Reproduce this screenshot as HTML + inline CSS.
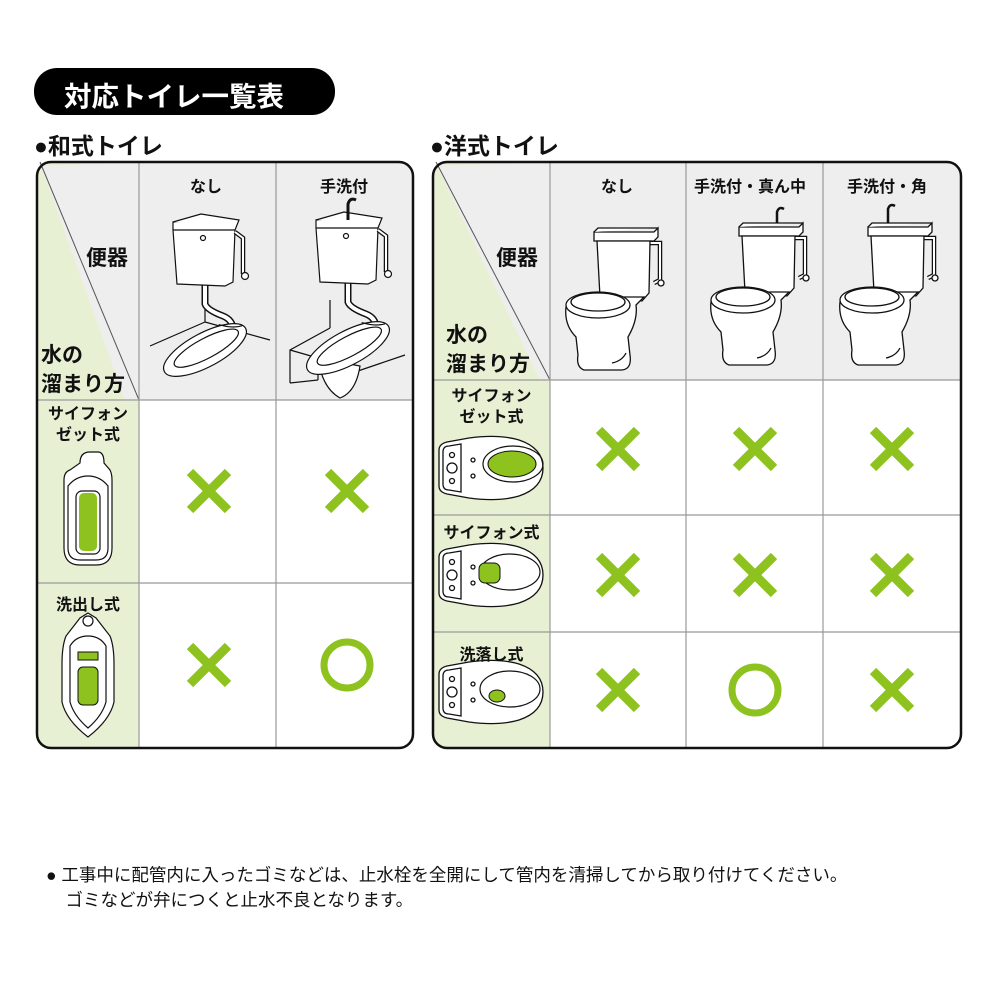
<!DOCTYPE html>
<html><head><meta charset="utf-8"><style>
body{margin:0;width:1000px;height:1000px;background:#fff;position:relative;overflow:hidden;font-family:"Liberation Sans","Noto Sans CJK JP",sans-serif;}
.t{position:absolute;font-weight:bold;color:#111;white-space:nowrap;}
</style></head><body>
<svg width="1000" height="1000" style="position:absolute;left:0;top:0">
<defs>
<g id="xm"><path d="M-19,-19 L19,19 M19,-19 L-19,19" stroke="#8dc21f" stroke-width="9"/></g>
<g id="om"><circle r="23" fill="none" stroke="#8dc21f" stroke-width="7"/></g>
<g id="wt" fill="#fff" stroke="#111" stroke-width="1.3">
 <path d="M55,18 L68,18 L68,55 L62,58" fill="none" stroke-width="4.5"/>
 <path d="M55,18 L68,18 L68,55 L62,58" fill="none" stroke="#fff" stroke-width="2"/>
 <circle cx="69" cy="58" r="3"/>
 <path d="M2,7 L62,7 L66,3 L66,12 L62,16 L2,16 Z"/><path d="M2,7 L6,3 L66,3"/>
 <path d="M5,16 L58,16 L57,68 L50,76 L8,72 Z"/>
 <path d="M-26,82 Q-28,100 -16,112 L-14,130 Q-16,142 -8,145 L30,145 Q40,144 38,130 L36,112 Q46,95 44,80 L52,72 L30,72 Z"/>
 <ellipse cx="6" cy="80" rx="32" ry="13"/>
 <ellipse cx="6" cy="77" rx="27" ry="9"/>
 <path d="M20,138 Q30,136 34,128" fill="none"/>
</g>
<g id="sq" fill="#fff" stroke="#111" stroke-width="1.2">
 <path d="M40,63 L40,82 Q42,88 58,94 Q68,98 68,108" fill="none" stroke-width="7"/>
 <path d="M40,63 L40,82 Q42,88 58,94 Q68,98 68,108" fill="none" stroke="#fff" stroke-width="4"/>
 <g transform="translate(40,128) rotate(-28)">
  <ellipse rx="46" ry="17"/>
  <ellipse cx="2" cy="-1" rx="36" ry="10"/>
  <path d="M24,-16 Q34,-6 44,-4" fill="none"/>
 </g>
 <path d="M8,0 L62,0 L70,8 L68,60 L60,64 L12,62 L8,8 Z"/>
 <path d="M8,0 L36,-8 L74,-2 L70,8"/>
 <path d="M8,8 L70,8" fill="none"/>
 <path d="M70,10 L78,16 L78,52" fill="none" stroke-width="4.5"/>
 <path d="M70,10 L78,16 L78,52" fill="none" stroke="#fff" stroke-width="2"/>
 <circle cx="80" cy="54" r="3.5"/>
 <circle cx="38" cy="16" r="2.5"/>
</g>
<g id="bowl" fill="#fff" stroke="#111" stroke-width="1.3">
 <path d="M0,4 Q0,-2 8,-4 L30,-8 Q60,-12 80,-6 Q104,2 104,22 Q104,42 80,50 Q60,56 30,52 L8,48 Q0,46 0,40 Z"/>
 <path d="M4,6 Q4,0 10,0 L22,-2 L22,46 L10,44 Q4,44 4,38 Z"/>
 <circle cx="13" cy="22" r="5"/><circle cx="13" cy="9" r="2.5"/><circle cx="13" cy="35" r="2.5"/>
 <circle cx="34" cy="14" r="2"/><circle cx="34" cy="30" r="2"/>
</g>
</defs>
<rect x="34" y="68" width="301" height="47" rx="23" fill="#000"/>
<!-- LEFT TABLE -->
<rect x="37" y="162" width="376" height="586" rx="14" fill="#fff"/>
<path d="M51,162 L139,162 L139,400 L37,400 L37,176 Q37,162 51,162Z" fill="#e8f0d4"/>
<path d="M139,162 L399,162 Q413,162 413,176 L413,400 L139,400 Z" fill="#eeeeee"/>
<path d="M41,166 L139,162 L139,400 L125,400 Z" fill="#eeeeee"/>
<path d="M37,400 L139,400 L139,748 L51,748 Q37,748 37,734 Z" fill="#e8f0d4"/>
<line x1="40" y1="162" x2="139" y2="400" stroke="#555" stroke-width="1"/>
<g stroke="#999" stroke-width="1.2"><line x1="139" y1="162" x2="139" y2="748"/><line x1="276" y1="162" x2="276" y2="748"/><line x1="37" y1="400" x2="413" y2="400"/><line x1="37" y1="583" x2="413" y2="583"/></g>
<rect x="37" y="162" width="376" height="586" rx="14" fill="none" stroke="#111" stroke-width="2.5"/>
<path d="M150,346 L205,322 M205,290 L205,322 M205,322 L270,340" stroke="#111" fill="none" stroke-width="1.2"/>
<use href="#sq" transform="translate(165,222)"/>
<path d="M290,383 L290,350 L330,328 M290,350 L318,358 L318,380 M318,380 L290,383 M355,372 L405,355 M330,328 L330,300" stroke="#111" fill="none" stroke-width="1.2"/>
<path d="M318,358 Q322,388 340,398 Q356,392 360,366 Z" fill="#fff" stroke="#111" stroke-width="1.2"/>
<use href="#sq" transform="translate(308,220)"/>
<path d="M348,220 L348,204 Q350,197 356,200" fill="none" stroke="#111" stroke-width="3"/>
<!-- left icons -->
<g fill="#fff" stroke="#111" stroke-width="1.2">
 <path d="M80,463 Q80,452 90,452 L98,452 Q104,452 104,463 L110,470 Q112,474 112,480 L112,548 Q112,565 96,565 L80,565 Q64,565 64,548 L64,480 Q64,472 70,470 Z"/>
 <path d="M68,486 L68,548 Q68,560 80,560 L96,560 Q108,560 108,548 L108,486 Q100,476 88,476 Q76,476 68,486Z"/>
 <rect x="76" y="491" width="24" height="63" rx="6"/>
 <path d="M88,613 L96,618 L110,636 Q114,646 114,664 L114,702 Q110,720 88,737 Q66,720 62,702 L62,664 Q62,646 66,636 L80,618 Z"/>
 <path d="M70,646 L70,702 Q74,716 88,728 Q102,716 106,702 L106,646 Q100,636 88,636 Q76,636 70,646Z"/>
 <circle cx="88" cy="621" r="5"/>
</g>
<rect x="79" y="493" width="18" height="58" rx="5" fill="#8dc21f"/>
<rect x="78" y="652" width="20" height="8" fill="#8dc21f" stroke="#111" stroke-width="1"/>
<rect x="78" y="667" width="20" height="38" rx="5" fill="#8dc21f" stroke="#111" stroke-width="1"/>
<use href="#xm" transform="translate(209,491)"/>
<use href="#xm" transform="translate(347,491)"/>
<use href="#xm" transform="translate(209,665)"/>
<use href="#om" transform="translate(347,665)"/>
<!-- RIGHT TABLE -->
<path d="M446,162 L550,162 L550,748 L446,748 Q433,748 433,734 L433,176 Q433,162 446,162Z" fill="#e8f0d4"/>
<path d="M550,162 L947,162 Q961,162 961,176 L961,380 L550,380 Z" fill="#eeeeee"/>
<path d="M550,380 L961,380 L961,734 Q961,748 947,748 L550,748 Z" fill="#fff"/>
<path d="M437,166 L550,162 L550,380 L540,380 Z" fill="#eeeeee"/>
<line x1="436" y1="162" x2="550" y2="380" stroke="#555" stroke-width="1"/>
<g stroke="#999" stroke-width="1.2"><line x1="550" y1="162" x2="550" y2="748"/><line x1="686" y1="162" x2="686" y2="748"/><line x1="823" y1="162" x2="823" y2="748"/><line x1="433" y1="380" x2="961" y2="380"/><line x1="433" y1="515" x2="961" y2="515"/><line x1="433" y1="632" x2="961" y2="632"/></g>
<rect x="433" y="162" width="528" height="586" rx="14" fill="none" stroke="#111" stroke-width="2.5"/>
<use href="#wt" transform="translate(592,225)"/>
<use href="#wt" transform="translate(737,220)"/>
<use href="#wt" transform="translate(866,220)"/>
<path d="M777,223 L777,212 Q779,206 784,209 M888,223 L888,209 Q890,203 895,206" fill="none" stroke="#111" stroke-width="2.5"/>
<use href="#bowl" transform="translate(439,446)"/>
<use href="#bowl" transform="translate(439,553)"/>
<use href="#bowl" transform="translate(439,670)"/>
<g fill="none" stroke="#111" stroke-width="1.2">
 <ellipse cx="513" cy="464" rx="30" ry="18"/>
 <ellipse cx="510" cy="572" rx="30" ry="18"/>
 <ellipse cx="510" cy="689" rx="30" ry="18"/>
</g>
<ellipse cx="512" cy="464" rx="24" ry="13" fill="#8dc21f" stroke="#111" stroke-width="1"/>
<rect x="479" y="563" width="21" height="20" rx="6" fill="#8dc21f" stroke="#111" stroke-width="1"/>
<ellipse cx="497" cy="696" rx="8" ry="6" fill="#8dc21f" stroke="#111" stroke-width="1"/>
<use href="#xm" transform="translate(618,449)"/>
<use href="#xm" transform="translate(755,449)"/>
<use href="#xm" transform="translate(892,449)"/>
<use href="#xm" transform="translate(618,575)"/>
<use href="#xm" transform="translate(755,575)"/>
<use href="#xm" transform="translate(892,575)"/>
<use href="#xm" transform="translate(618,690)"/>
<use href="#om" transform="translate(755,690)"/>
<use href="#xm" transform="translate(892,690)"/>
</svg>
<div class="t" style="left:64px;top:74px;font-size:27.5px;color:#fff;">対応トイレ一覧表</div>
<div class="t" style="left:34px;top:127px;font-size:23px;">●和式トイレ</div>
<div class="t" style="left:430px;top:127px;font-size:23px;">●洋式トイレ</div>
<div class="t" style="left:190px;top:173px;font-size:16px;">なし</div>
<div class="t" style="left:320px;top:173px;font-size:16px;">手洗付</div>
<div class="t" style="left:86px;top:242px;font-size:21px;">便器</div>
<div class="t" style="left:41px;top:341px;font-size:21px;line-height:29px;">水の<br>溜まり方</div>
<div class="t" style="left:40px;top:404px;width:96px;text-align:center;font-size:16px;line-height:21px;">サイフォン<br>ゼット式</div>
<div class="t" style="left:40px;top:591px;width:96px;text-align:center;font-size:16px;">洗出し式</div>
<div class="t" style="left:601px;top:173px;font-size:16px;">なし</div>
<div class="t" style="left:694px;top:173px;font-size:16px;">手洗付・真ん中</div>
<div class="t" style="left:847px;top:173px;font-size:16px;">手洗付・角</div>
<div class="t" style="left:496px;top:242px;font-size:21px;">便器</div>
<div class="t" style="left:446px;top:321px;font-size:21px;line-height:29px;">水の<br>溜まり方</div>
<div class="t" style="left:435px;top:386px;width:113px;text-align:center;font-size:16px;line-height:21px;">サイフォン<br>ゼット式</div>
<div class="t" style="left:435px;top:519px;width:113px;text-align:center;font-size:16px;">サイフォン式</div>
<div class="t" style="left:435px;top:641px;width:113px;text-align:center;font-size:16px;">洗落し式</div>
<div class="t" style="left:46px;top:863px;font-size:17.5px;line-height:25px;font-weight:normal;">● 工事中に配管内に入ったゴミなどは、止水栓を全開にして管内を清掃してから取り付けてください。<br>&nbsp;&nbsp;&nbsp;&nbsp;ゴミなどが弁につくと止水不良となります。</div>
</body></html>
